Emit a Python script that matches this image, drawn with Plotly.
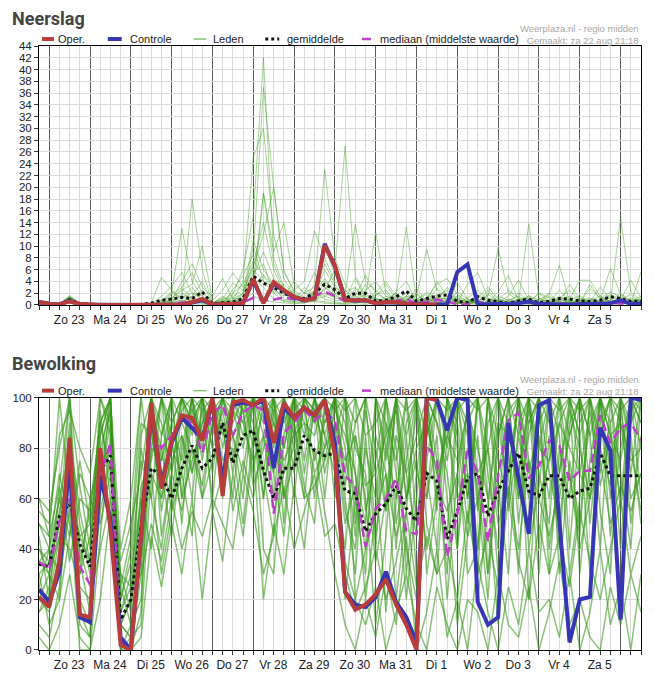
import pandas as pd
import plotly.graph_objects as go

# tijdstappen van 6 uur, vanaf za 22 aug 18:00
tijden = pd.date_range("2020-08-22 18:00", periods=60, freq="6h")
middernachten = pd.date_range("2020-08-23", periods=15, freq="D")
dagen = ["Zo 23", "Ma 24", "Di 25", "Wo 26", "Do 27", "Vr 28", "Za 29", "Zo 30",
         "Ma 31", "Di 1", "Wo 2", "Do 3", "Vr 4", "Za 5", ""]

# ---- Neerslag (mm) ----
neerslag_oper = [0.5, 0.2, 0.1, 0.6, 0.2, 0.05, 0, 0, 0, 0,
                 0, 0, 0, 0, 0.1, 0.5, 1.0, 0.1, 0.1, 0.2,
                 0.3, 4.4, 0.3, 3.9, 2.5, 1.4, 0.8, 1.1, 10.1, 6.7,
                 0.8, 0.8, 0.8, 0.3, 0.5, 0.5, 0.2, 0.1, 0.1, 0.1]
neerslag_controle = [0.5, 0.2, 0.1, 0.7, 0.1, 0.05, 0, 0, 0, 0,
                     0, 0, 0, 0, 0.1, 0.4, 0.8, 0.1, 0.1, 0.2,
                     0.3, 4.2, 0.4, 3.6, 2.4, 1.3, 0.8, 1.2, 10.4, 6.5,
                     0.9, 0.7, 0.8, 0.3, 0.4, 0.4, 0.2, 0.1, 0.1, 0.1,
                     0.1, 5.6, 6.9, 0.1, 0.1, 0.1, 0.2, 0.3, 0.6, 0.2,
                     0.1, 0.1, 0.1, 0.1, 0.1, 0.2, 0.3, 0.8, 0.2, 0.2]
neerslag_gemiddelde = [0.4, 0.1, 0.1, 0.9, 0.2, 0.1, 0, 0, 0, 0,
                       0.1, 0.3, 0.8, 1.0, 1.3, 1.1, 2.2, 0.2, 0.3, 0.5,
                       1.1, 4.9, 3.7, 3.0, 2.0, 1.3, 1.1, 2.0, 3.5, 2.6,
                       1.1, 2.0, 2.0, 0.6, 0.8, 1.4, 2.4, 0.6, 1.1, 1.5,
                       1.7, 0.6, 0.4, 1.4, 0.8, 0.6, 0.3, 0.7, 1.0, 0.4,
                       0.6, 1.1, 1.0, 0.7, 0.6, 0.8, 1.4, 1.1, 0.6, 0.6]
neerslag_mediaan = [0.3, 0.1, 0.1, 0.7, 0.1, 0, 0, 0, 0, 0,
                    0, 0, 0.1, 0.2, 0.4, 0.4, 0.8, 0.1, 0.1, 0.2,
                    0.4, 1.2, 0.8, 0.9, 1.3, 1.0, 0.6, 1.5, 2.3, 1.5,
                    0.7, 0.9, 0.8, 0.3, 0.4, 0.7, 1.0, 0.2, 0.5, 0.9,
                    0.6, 0.1, 0.1, 0.5, 0.3, 0.2, 0.1, 0.3, 0.4, 0.1,
                    0.2, 0.3, 0.2, 0.2, 0.1, 0.2, 0.4, 0.3, 0.1, 0.2]
neerslag_leden = [
    [0.4, 0.1, 0.1, 1.0, 0.2, 0.1, 0, 0, 0, 0, 0, 0.2, 1.5, 3.2, 5.5, 2.0, 1.0, 0.2, 0.5, 1.8,
     6.0, 15.0, 42.0, 8.0, 3.0, 1.5, 0.8, 2.0, 4.5, 2.0, 1.2, 0.8, 3.5, 1.0, 0.5, 2.2, 4.0, 0.6, 0.3, 1.5,
     2.5, 0.8, 0.2, 0.5, 1.8, 0.6, 0.2, 0.8, 1.5, 0.4, 0.2, 1.2, 2.5, 0.8, 0.4, 1.0, 2.2, 1.4, 0.6, 1.5],
    [0.3, 0.1, 0.1, 1.4, 0.2, 0, 0, 0, 0, 0, 0, 0, 0.5, 2.0, 13.0, 4.0, 1.5, 0, 0.2, 2.5,
     5.0, 8.5, 37.0, 20.0, 6.0, 2.0, 1.0, 0.5, 3.0, 1.8, 0.5, 2.0, 1.2, 0.3, 1.5, 0.8, 2.0, 0.4, 1.0, 0.5,
     0.3, 2.2, 1.0, 0.4, 0.2, 1.5, 0.8, 0.3, 0.6, 2.0, 0.5, 0.3, 0.8, 1.6, 0.4, 0.2, 0.5, 0.9, 1.8, 0.4],
    [0.5, 0.1, 0.1, 1.6, 0.3, 0.1, 0, 0, 0, 0, 0, 0.3, 4.7, 2.5, 1.0, 18.0, 6.0, 0.3, 0.8, 0.4,
     1.2, 4.0, 19.0, 9.0, 14.0, 3.5, 2.0, 1.5, 6.0, 3.0, 1.8, 13.7, 4.0, 2.5, 0.8, 1.2, 0.5, 2.8, 0.6, 1.2,
     1.0, 0.4, 3.5, 5.5, 1.2, 0.5, 0.3, 2.0, 0.8, 0.3, 1.5, 0.6, 0.2, 0.4, 2.8, 1.2, 0.6, 0.3, 0.8, 1.0],
    [0.3, 0.1, 0.2, 0.8, 0.2, 0, 0, 0, 0, 0, 0, 0, 0.8, 1.2, 2.5, 3.5, 10.0, 0.8, 2.5, 5.5,
     3.0, 6.5, 12.0, 20.0, 5.5, 2.5, 4.0, 12.6, 8.0, 4.0, 2.2, 3.0, 1.5, 12.4, 2.0, 0.6, 1.0, 1.4, 9.5, 2.5,
     0.8, 1.2, 0.4, 0.8, 1.5, 9.6, 2.0, 0.6, 13.8, 1.2, 0.4, 0.8, 1.5, 0.6, 0.3, 0.8, 6.2, 1.8, 0.5, 0.8],
    [0.4, 0.2, 0.1, 1.2, 0.1, 0.1, 0, 0, 0, 0, 0, 0, 0.2, 0.8, 4.0, 7.0, 3.0, 1.5, 4.5, 1.0,
     2.0, 11.0, 6.0, 3.5, 2.0, 1.2, 0.8, 3.5, 23.0, 8.0, 3.5, 1.5, 0.6, 2.2, 4.0, 1.5, 13.2, 0.8, 1.2, 3.5,
     4.5, 1.8, 0.6, 0.3, 2.5, 0.5, 1.5, 4.2, 0.8, 0.6, 1.8, 6.7, 0.5, 0.2, 1.0, 0.6, 0.4, 14.9, 2.2, 0.8],
    [0.4, 0.1, 0.1, 0.9, 0.2, 0, 0, 0, 0, 0, 0, 0.1, 0.5, 0.6, 1.2, 2.0, 1.5, 0.4, 1.0, 3.8,
     2.5, 5.0, 9.0, 4.5, 3.0, 1.0, 0.5, 1.2, 2.5, 6.0, 27.0, 5.0, 1.5, 0.8, 1.0, 2.0, 0.6, 1.8, 0.5, 2.8,
     1.4, 0.6, 0.3, 1.2, 3.0, 1.0, 0.4, 0.2, 1.6, 0.8, 2.0, 0.5, 0.3, 1.2, 0.6, 0.4, 1.5, 0.6, 0.3, 5.6],
    [0.3, 0.1, 0.1, 1.1, 0.3, 0.1, 0, 0, 0, 0, 0, 0, 0.2, 0.4, 0.8, 1.0, 2.5, 0.2, 0.6, 0.3,
     1.5, 3.5, 5.0, 2.5, 1.5, 4.0, 2.0, 5.5, 3.0, 1.5, 0.8, 1.5, 5.0, 2.0, 1.0, 0.4, 1.5, 0.8, 2.2, 1.0,
     0.5, 3.8, 1.0, 0.2, 0.6, 0.8, 2.5, 1.2, 0.4, 0.3, 0.8, 1.4, 0.5, 0.3, 3.5, 1.0, 0.5, 0.8, 4.2, 1.2],
    [0.4, 0.1, 0.1, 1.3, 0.2, 0, 0, 0, 0, 0, 0, 0, 0.3, 1.8, 3.0, 5.5, 2.0, 0.5, 0.3, 0.8,
     4.0, 25.0, 30.0, 12.0, 4.5, 1.5, 1.0, 2.5, 7.0, 3.5, 1.0, 0.6, 2.5, 4.0, 1.5, 0.5, 0.8, 2.0, 0.4, 0.8,
     3.0, 1.0, 0.5, 1.5, 0.4, 2.2, 5.0, 0.8, 0.3, 1.0, 0.5, 2.5, 0.8, 0.4, 0.6, 3.0, 1.0, 0.4, 1.2, 0.6],
    [0.5, 0.1, 0.1, 0.7, 0.1, 0, 0, 0, 0, 0, 0, 0, 0.1, 0.3, 0.5, 1.5, 4.0, 0.2, 1.5, 0.6,
     2.0, 7.0, 14.0, 6.0, 2.0, 0.8, 3.0, 1.5, 10.0, 5.0, 2.5, 1.0, 0.5, 1.5, 3.5, 1.0, 0.3, 1.0, 1.8, 0.5,
     0.6, 0.3, 1.2, 2.5, 0.8, 0.4, 1.0, 0.6, 0.3, 2.0, 1.2, 0.4, 3.5, 1.0, 0.5, 0.3, 0.8, 2.0, 0.6, 0.4],
    [0.3, 0.1, 0.1, 1.5, 0.2, 0.1, 0, 0, 0, 0, 0, 0, 0, 0.5, 2.0, 1.0, 0.8, 0.2, 0.2, 1.2,
     0.8, 2.0, 19.0, 7.0, 2.5, 1.2, 0.6, 0.8, 1.5, 2.5, 1.0, 4.5, 1.0, 0.6, 0.3, 0.8, 1.2, 0.5, 0.8, 4.0,
     1.5, 0.5, 0.8, 0.3, 1.2, 0.5, 0.3, 1.0, 0.8, 0.4, 0.3, 0.6, 1.0, 4.2, 4.2, 1.5, 0.5, 0.3, 0.6, 1.0],
    [0.4, 0.1, 0.1, 0.9, 0.2, 0, 0, 0, 0, 0, 0, 0, 0, 0.2, 0.3, 0.6, 0.5, 0, 0.1, 0.4,
     1.0, 4.5, 3.0, 1.0, 0.8, 0.5, 2.0, 3.0, 1.5, 0.8, 0.6, 0.3, 0.8, 1.2, 0.5, 0.3, 0.6, 0.2, 0.5, 0.8,
     1.2, 0.4, 0.2, 0.6, 0.3, 0.2, 0.5, 0.3, 0.2, 0.4, 0.3, 0.2, 0.5, 0.3, 0.2, 0.6, 0.3, 0.2, 0.4, 0.3],
    [0.3, 0.1, 0.1, 1.2, 0.2, 0.1, 0, 0, 0, 0, 0, 0, 0.1, 0.4, 0.8, 0.5, 1.0, 0.3, 0.6, 0.2,
     0.5, 10.0, 4.0, 2.0, 0.6, 0.4, 0.3, 0.8, 0.5, 0.3, 0.2, 0.5, 0.3, 0.8, 0.4, 0.2, 0.3, 0.5, 0.2, 0.3,
     0.5, 0.3, 0.2, 0.4, 0.3, 0.2, 0.4, 0.3, 0.2, 0.3, 0.2, 0.3, 0.4, 0.2, 0.3, 0.2, 0.3, 0.4, 0.2, 0.3],
    [0.3, 0.1, 0.1, 0.8, 0.1, 0, 0, 0, 0, 0, 0, 0, 0, 0, 0.1, 0.2, 0.1, 0, 0, 0.1,
     0.3, 1.5, 0.8, 0.5, 0.3, 0.2, 0.4, 0.6, 0.3, 0.2, 0.1, 0.2, 0.1, 0.3, 0.2, 0.1, 0.2, 0.1, 0.3, 0.2,
     0.1, 0.2, 0.1, 0.1, 0.2, 0.1, 0.1, 0.2, 0.1, 0.1, 0.1, 0.1, 0.2, 0.1, 0.1, 0.2, 0.1, 0.1, 0.1, 0.2],
    [0.4, 0.1, 0.1, 1.1, 0.2, 0, 0, 0, 0, 0, 0, 0, 0.2, 0.8, 1.5, 0.5, 0.3, 0.1, 0.4, 1.5,
     2.5, 6.0, 4.0, 3.0, 1.0, 0.6, 0.5, 1.0, 2.0, 1.2, 0.6, 2.8, 1.0, 0.5, 0.3, 0.6, 1.5, 0.8, 0.5, 1.2,
     0.4, 0.8, 0.3, 1.8, 0.6, 0.3, 0.8, 1.5, 0.5, 0.3, 0.6, 0.4, 0.3, 0.8, 1.2, 0.5, 0.3, 0.6, 0.4, 0.8],
    [0.3, 0.1, 0.1, 1.0, 0.2, 0, 0, 0, 0, 0, 0, 0, 0.4, 1.0, 2.8, 1.2, 0.6, 0.1, 0.8, 2.0,
     3.5, 7.5, 5.0, 3.5, 1.8, 2.5, 1.2, 0.8, 4.0, 2.5, 1.5, 0.8, 1.8, 1.0, 0.6, 1.5, 0.4, 0.6, 1.2, 0.4,
     0.8, 1.5, 0.6, 0.2, 0.5, 1.0, 0.4, 0.6, 1.2, 0.3, 0.5, 1.0, 0.4, 0.3, 0.8, 0.5, 1.8, 0.6, 0.3, 0.5],
    [0.4, 0.1, 0.1, 1.3, 0.2, 0.1, 0, 0, 0, 0, 0, 0.1, 0.8, 2.2, 1.0, 3.0, 0.8, 0.3, 1.2, 0.5,
     1.8, 5.5, 7.0, 2.0, 3.5, 1.8, 0.6, 2.2, 1.0, 0.5, 0.3, 1.0, 0.6, 1.8, 2.5, 0.4, 0.8, 0.3, 0.6, 1.8,
     0.6, 0.3, 0.4, 0.8, 0.2, 0.6, 0.3, 0.8, 0.5, 0.6, 0.8, 0.3, 0.6, 0.4, 0.8, 1.5, 0.6, 0.3, 0.5, 0.6],
]

# ---- Bewolking (%) ----
bewolking_oper = [21, 17, 35, 84, 14, 13, 80, 48, 2, 0,
                  45, 98, 64, 83, 93, 92, 83, 100, 61, 98,
                  99, 97, 100, 82, 98, 92, 96, 93, 99, 77,
                  23, 16, 18, 22, 28, 18, 10, 0, 100, 99]
bewolking_controle = [24, 19, 31, 75, 13, 11, 69, 52, 5, 0,
                      45, 96, 66, 82, 92, 88, 84, 98, 66, 97,
                      98, 97, 99, 72, 96, 92, 96, 93, 99, 82,
                      23, 18, 17, 21, 31, 19, 13, 3, 100, 99,
                      87, 100, 99, 19, 10, 13, 90, 68, 46, 97,
                      99, 51, 3, 20, 21, 88, 79, 12, 100, 99]
bewolking_gemiddelde = [34, 33, 53, 58, 42, 33, 71, 77, 12, 20,
                        49, 72, 69, 60, 72, 81, 72, 76, 90, 74,
                        85, 87, 71, 60, 72, 72, 85, 79, 77, 78,
                        63, 62, 47, 54, 58, 65, 56, 51, 70, 67,
                        44, 55, 68, 70, 53, 63, 71, 78, 63, 61,
                        69, 69, 60, 63, 64, 78, 69, 69, 69, 69]
bewolking_mediaan = [35, 32, 51, 60, 33, 26, 69, 82, 3, 1,
                     44, 88, 80, 85, 92, 90, 78, 94, 97, 85,
                     94, 97, 95, 54, 86, 90, 95, 91, 94, 91,
                     69, 65, 41, 56, 60, 68, 47, 46, 81, 75,
                     37, 54, 80, 70, 43, 69, 91, 94, 68, 73,
                     83, 81, 67, 71, 71, 93, 82, 88, 90, 83]
bewolking_leden = [
    [35, 30, 55, 70, 40, 25, 80, 95, 10, 5, 50, 100, 70, 45, 80, 100, 60, 90, 100, 75,
     100, 95, 40, 30, 85, 100, 70, 95, 80, 100, 60, 30, 85, 40, 100, 70, 20, 60, 100, 75,
     30, 95, 100, 60, 20, 85, 100, 50, 90, 100, 40, 70, 100, 85, 30, 100, 60, 95, 70, 100],
    [20, 15, 40, 90, 20, 10, 60, 100, 5, 0, 30, 90, 55, 80, 100, 70, 95, 60, 100, 100,
     85, 100, 70, 45, 100, 80, 100, 60, 95, 85, 100, 70, 20, 55, 90, 40, 85, 30, 75, 100,
     60, 10, 45, 100, 80, 30, 70, 100, 40, 65, 100, 30, 75, 50, 100, 70, 90, 40, 100, 80],
    [50, 45, 65, 35, 60, 55, 90, 70, 20, 35, 75, 60, 100, 85, 50, 95, 100, 80, 70, 100,
     100, 80, 95, 100, 60, 75, 100, 100, 85, 70, 40, 85, 60, 10, 45, 100, 60, 95, 50, 30,
     85, 100, 70, 20, 55, 100, 80, 30, 100, 60, 75, 100, 40, 90, 100, 55, 30, 100, 85, 50],
    [10, 5, 25, 60, 0, 0, 45, 85, 0, 10, 20, 80, 100, 60, 95, 100, 75, 100, 90, 60,
     100, 100, 85, 70, 95, 60, 100, 90, 100, 100, 80, 45, 95, 70, 15, 60, 100, 50, 85, 100,
     100, 40, 80, 65, 30, 70, 95, 100, 20, 85, 60, 90, 100, 30, 75, 100, 85, 60, 100, 90],
    [60, 55, 80, 100, 65, 40, 95, 60, 30, 15, 85, 100, 45, 70, 100, 90, 100, 95, 100, 85,
     70, 100, 100, 95, 50, 100, 85, 100, 75, 95, 100, 20, 40, 85, 70, 20, 55, 100, 60, 85,
     20, 70, 95, 100, 60, 10, 85, 70, 100, 40, 100, 60, 85, 100, 50, 90, 100, 70, 40, 100],
    [25, 40, 70, 50, 30, 60, 75, 100, 15, 30, 60, 40, 85, 100, 60, 75, 90, 100, 85, 100,
     95, 70, 100, 60, 100, 90, 60, 100, 100, 80, 20, 60, 100, 45, 80, 100, 30, 70, 100, 55,
     100, 80, 30, 40, 90, 100, 55, 85, 60, 100, 30, 80, 60, 100, 85, 40, 100, 90, 60, 70],
    [45, 20, 35, 85, 55, 35, 100, 90, 5, 0, 40, 95, 80, 55, 85, 60, 100, 80, 95, 70,
     100, 90, 60, 100, 70, 100, 95, 75, 90, 100, 70, 100, 55, 75, 100, 80, 40, 20, 90, 70,
     45, 100, 60, 85, 30, 90, 60, 100, 75, 30, 85, 40, 100, 70, 60, 100, 45, 80, 100, 60],
    [15, 25, 50, 100, 35, 15, 55, 75, 0, 5, 10, 70, 60, 90, 75, 100, 80, 100, 60, 95,
     80, 100, 95, 80, 100, 70, 100, 95, 60, 100, 90, 60, 30, 100, 55, 85, 70, 45, 100, 90,
     70, 40, 100, 55, 100, 65, 30, 90, 100, 70, 50, 100, 70, 45, 100, 80, 65, 100, 50, 85],
    [40, 35, 60, 45, 75, 50, 85, 100, 20, 40, 90, 85, 65, 100, 90, 80, 65, 90, 100, 85,
     60, 100, 100, 90, 80, 100, 90, 85, 100, 60, 100, 80, 70, 35, 60, 100, 85, 100, 30, 60,
     90, 60, 70, 30, 100, 55, 100, 60, 85, 100, 70, 50, 90, 100, 65, 85, 100, 55, 95, 100],
    [30, 10, 20, 75, 10, 5, 70, 95, 10, 20, 55, 100, 90, 70, 100, 85, 100, 70, 100, 95,
     90, 75, 85, 100, 60, 95, 100, 100, 70, 90, 55, 40, 80, 60, 100, 50, 75, 100, 70, 40,
     100, 85, 50, 100, 70, 40, 90, 60, 100, 80, 100, 85, 30, 60, 90, 100, 70, 100, 80, 55],
    [20, 30, 45, 40, 25, 20, 40, 60, 15, 25, 30, 50, 35, 60, 40, 55, 45, 60, 50, 40,
     70, 55, 30, 45, 65, 40, 55, 70, 45, 50, 30, 15, 25, 40, 20, 35, 55, 25, 45, 30,
     40, 20, 55, 30, 45, 25, 60, 35, 20, 50, 30, 45, 25, 55, 35, 20, 40, 60, 30, 45],
    [55, 50, 85, 95, 80, 70, 100, 85, 35, 50, 70, 100, 100, 90, 100, 100, 95, 100, 100, 100,
     100, 100, 90, 100, 100, 100, 100, 100, 100, 95, 85, 70, 50, 100, 80, 60, 90, 100, 85, 100,
     95, 100, 100, 70, 80, 100, 100, 85, 100, 100, 100, 100, 85, 100, 100, 100, 90, 100, 100, 100],
    [5, 0, 10, 30, 5, 0, 20, 55, 0, 0, 5, 45, 25, 50, 30, 60, 20, 55, 35, 70,
     45, 80, 20, 50, 30, 65, 40, 80, 55, 30, 10, 0, 20, 5, 30, 10, 45, 0, 15, 40,
     5, 20, 0, 35, 15, 0, 25, 10, 40, 15, 20, 5, 30, 0, 15, 40, 10, 25, 0, 30],
    [35, 40, 60, 80, 50, 30, 65, 90, 25, 10, 65, 75, 100, 80, 70, 100, 85, 100, 100, 90,
     100, 85, 70, 100, 90, 100, 75, 100, 85, 100, 65, 90, 100, 80, 55, 100, 100, 70, 60, 100,
     80, 100, 85, 40, 100, 75, 60, 100, 70, 90, 100, 70, 95, 80, 60, 100, 85, 75, 100, 95],
    [25, 20, 45, 65, 45, 35, 90, 100, 10, 5, 35, 80, 75, 100, 100, 90, 100, 100, 80, 100,
     100, 100, 100, 85, 100, 100, 100, 90, 100, 100, 95, 100, 85, 90, 100, 100, 70, 85, 100, 100,
     100, 90, 60, 100, 100, 85, 100, 100, 90, 100, 90, 100, 100, 95, 100, 85, 100, 100, 100, 90],
    [50, 40, 30, 55, 30, 45, 70, 80, 30, 25, 80, 60, 40, 70, 55, 80, 60, 75, 90, 55,
     75, 60, 85, 55, 70, 80, 60, 65, 75, 85, 50, 65, 40, 55, 70, 45, 60, 75, 40, 65,
     55, 70, 45, 60, 80, 50, 65, 40, 75, 60, 45, 65, 70, 40, 60, 75, 50, 65, 55, 70],
    [15, 20, 65, 100, 15, 5, 85, 100, 5, 0, 15, 100, 85, 100, 60, 100, 100, 85, 100, 100,
     90, 100, 60, 95, 100, 85, 100, 100, 90, 100, 100, 50, 100, 100, 90, 75, 100, 100, 100, 60,
     100, 100, 90, 100, 100, 100, 70, 100, 100, 100, 100, 100, 100, 85, 100, 100, 100, 100, 90, 100],
    [40, 30, 20, 45, 70, 60, 50, 70, 25, 45, 100, 70, 30, 55, 70, 45, 100, 55, 70, 80,
     50, 85, 100, 70, 45, 90, 65, 50, 100, 75, 35, 20, 10, 25, 0, 15, 30, 10, 0, 25,
     10, 0, 20, 15, 0, 30, 10, 5, 25, 0, 15, 35, 10, 20, 5, 0, 25, 10, 30, 15],
    [30, 35, 50, 60, 45, 50, 75, 80, 10, 20, 60, 90, 60, 75, 85, 70, 90, 95, 75, 85,
     95, 65, 80, 90, 75, 85, 90, 70, 80, 90, 75, 85, 65, 70, 85, 95, 60, 80, 90, 70,
     85, 75, 95, 80, 60, 90, 85, 70, 95, 80, 75, 90, 80, 70, 95, 65, 85, 90, 75, 80],
    [60, 45, 100, 60, 35, 55, 90, 100, 40, 60, 100, 100, 75, 90, 100, 95, 85, 100, 100, 100,
     95, 100, 100, 100, 80, 100, 100, 95, 100, 100, 100, 90, 100, 100, 75, 100, 95, 100, 100, 90,
     75, 100, 100, 95, 100, 100, 90, 100, 100, 95, 100, 95, 100, 100, 85, 100, 100, 95, 100, 100],
]

stijlen = {
    "Oper.": dict(color="#b83c3c", width=4, dash="solid"),
    "Controle": dict(color="#3636b4", width=4, dash="solid"),
    "Leden": dict(color="rgba(120,190,100,0.9)", width=1, dash="solid"),
    "gemiddelde": dict(color="#111111", width=3, dash="dot"),
    "mediaan (middelste waarde)": dict(color="#c03ccc", width=2.5, dash="9px,5px"),
}

LETTER = "Arial, Liberation Sans, sans-serif"

# figuurmaat; de pagina heeft 8px marge rondom en wordt verticaal iets geschaald
RAND = 8
BREED, HOOG = 655 - 2 * RAND, 669
SCHAAL = 685 / (HOOG + 3 * RAND)
L, R = 38, 642                      # plotgebied horizontaal (beeldpixels)
T_F = 45 / SCHAAL - RAND            # bovenkant plot in figuurpixels
B_F = 651                           # onderkant plot in figuurpixels


def px_x(px):
    return (px - L) / (R - L)


def px_y(py):
    return (B_F - (py / SCHAAL - RAND)) / (B_F - T_F)


fig = go.Figure()


def paneel(leden, oper, controle, gemiddelde, mediaan, xas, yas, leden_kleur, leden_breedte):
    for lid in leden:
        fig.add_trace(go.Scatter(x=tijden, y=lid, mode="lines", xaxis=xas, yaxis=yas,
                                 line=dict(color=leden_kleur, width=leden_breedte),
                                 hoverinfo="skip", showlegend=False))
    reeksen = [("gemiddelde", gemiddelde), ("mediaan (middelste waarde)", mediaan),
               ("Controle", controle), ("Oper.", oper)]
    for naam, waarden in reeksen:
        fig.add_trace(go.Scatter(x=tijden[:len(waarden)], y=waarden, mode="lines", name=naam,
                                 xaxis=xas, yaxis=yas, line=stijlen[naam], showlegend=False))


paneel(neerslag_leden, neerslag_oper, neerslag_controle, neerslag_gemiddelde, neerslag_mediaan,
       "x", "y", "rgba(62,158,30,0.45)", 1)
paneel(bewolking_leden, bewolking_oper, bewolking_controle, bewolking_gemiddelde, bewolking_mediaan,
       "x2", "y2", "rgba(52,150,22,0.58)", 1.5)

xas_basis = dict(
    type="date", range=[tijden[0], tijden[-1]],
    tickmode="array", tickvals=middernachten, ticktext=dagen, ticklabelshift=20,
    ticks="outside", ticklen=4, tickcolor="#333",
    showgrid=True, gridcolor="#5a5a5a", gridwidth=1,
    minor=dict(dtick=6 * 3600 * 1000, tick0="2020-08-22", ticks="outside", ticklen=4,
               tickcolor="#333", showgrid=True, gridcolor="#dadada"),
    showline=True, linecolor="#000", mirror=True, zeroline=False,
    tickfont=dict(family=LETTER, size=12, color="#222"),
)
yas_basis = dict(
    ticks="outside", ticklen=4, tickcolor="#333",
    showgrid=True, gridcolor="#dadada", zeroline=False,
    showline=True, linecolor="#000", mirror=True,
    tickfont=dict(family=LETTER, size=11.5, color="#222"),
)

fig.update_layout(
    width=BREED, height=HOOG,
    margin=dict(l=L - RAND, r=BREED - (R - RAND), t=T_F, b=HOOG - B_F),
    paper_bgcolor="white", plot_bgcolor="white",
    showlegend=False,
    xaxis=dict(xas_basis, anchor="y"),
    yaxis=dict(yas_basis, domain=[px_y(305), 1], range=[0, 44], dtick=2, tick0=0),
    xaxis2=dict(xas_basis, anchor="y2"),
    yaxis2=dict(yas_basis, domain=[0, px_y(398)], range=[0, 100], dtick=20, tick0=0),
)

# titels, bron en handmatige legenda per paneel
legenda = [("Oper.", 41, 53, 55), ("Controle", 107, 121, 127), ("Leden", 193, 206, 211),
           ("gemiddelde", 265, 279, 285), ("mediaan (middelste waarde)", 362, 376, 378)]
for titel, titel_y, rij_y in [("Neerslag", 17, 38), ("Bewolking", 364, 391)]:
    fig.add_annotation(text="<b>" + titel + "</b>", x=px_x(9), y=px_y(titel_y), xref="paper", yref="paper",
                       xanchor="left", yanchor="middle", showarrow=False,
                       font=dict(family="Roboto, sans-serif", size=18, color="#444"))
    fig.add_annotation(text="Weerplaza.nl - regio midden<br>Gemaakt: za 22 aug 21:18",
                       x=1, y=px_y(rij_y - 5), xref="paper", yref="paper", xanchor="right",
                       yanchor="middle", align="right", showarrow=False,
                       font=dict(family=LETTER, size=9.5, color="#a6a6a6"))
    for naam, x0, x1, xt in legenda:
        st = stijlen[naam]
        fig.add_shape(type="line", xref="paper", yref="paper", x0=px_x(x0), x1=px_x(x1),
                      y0=px_y(rij_y), y1=px_y(rij_y),
                      line=dict(color=st["color"], width=max(st["width"], 1.5) if naam == "Leden" else st["width"],
                                dash=st["dash"]))
        fig.add_annotation(text=naam, x=px_x(xt), y=px_y(rij_y), xref="paper", yref="paper",
                           xanchor="left", yanchor="middle", showarrow=False,
                           font=dict(family=LETTER, size=11, color="#222"))

fig.write_html("out.html")
